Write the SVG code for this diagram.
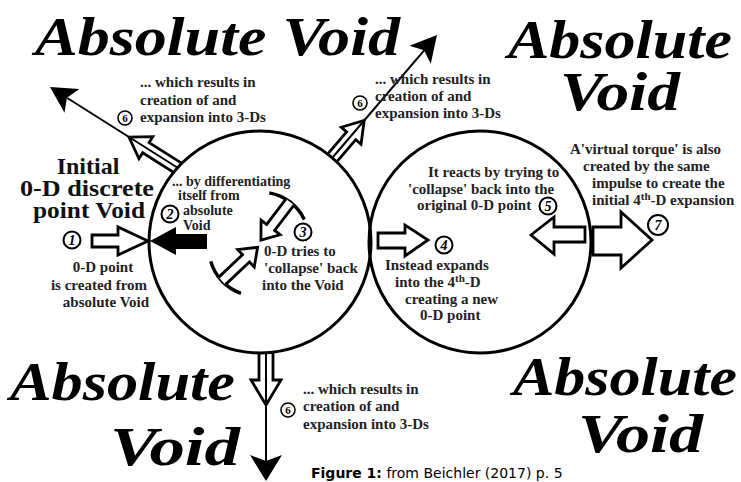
<svg xmlns="http://www.w3.org/2000/svg" width="741" height="482" viewBox="0 0 741 482">
<style>
.av{font-family:"Liberation Serif","Times New Roman",serif;font-style:italic;font-weight:bold;font-size:55px;fill:#000}
.t{font-family:"Liberation Serif","Times New Roman",serif;font-weight:bold;font-size:15px;fill:#222}
.ts{font-family:"Liberation Serif","Times New Roman",serif;font-weight:bold;font-size:14px;fill:#222}
.big{font-family:"Liberation Serif","Times New Roman",serif;font-weight:bold;font-size:24px;fill:#111;text-anchor:middle}
.num{font-family:"Liberation Serif","Times New Roman",serif;font-style:italic;font-weight:bold;font-size:14px;fill:#000;text-anchor:middle}
.n6{font-family:"Liberation Serif","Times New Roman",serif;font-weight:bold;font-size:11px;fill:#000;text-anchor:middle}
.nc{fill:#fff;stroke:#000;stroke-width:2}
.nc6{fill:#fff;stroke:#000;stroke-width:1.6}
.big-c{fill:none;stroke:#000;stroke-width:3}
.hol{fill:#fff;stroke:#000;stroke-width:2.8;stroke-linejoin:miter}
.thin{stroke:#000;stroke-width:2;fill:none}
.cap{font-family:"DejaVu Sans",Verdana,sans-serif;font-size:14px;fill:#000}
</style>
<rect width="741" height="482" fill="#fff"/>

<g id="void-labels">
<text class="av" x="35" y="55" textLength="365" lengthAdjust="spacingAndGlyphs">Absolute Void</text>
<text class="av" x="508" y="58" textLength="224" lengthAdjust="spacingAndGlyphs">Absolute</text>
<text class="av" x="560" y="110" textLength="120" lengthAdjust="spacingAndGlyphs">Void</text>
<text class="av" x="10" y="400" textLength="225" lengthAdjust="spacingAndGlyphs">Absolute</text>
<text class="av" x="110" y="465" textLength="130" lengthAdjust="spacingAndGlyphs">Void</text>
<text class="av" x="513" y="395" textLength="224" lengthAdjust="spacingAndGlyphs">Absolute</text>
<text class="av" x="578" y="452" textLength="125" lengthAdjust="spacingAndGlyphs">Void</text>
</g>

<g id="connectors">
  <g transform="translate(178,168) rotate(-147.7)">
    <path class="hol" d="M0,-6 H38 V-13 L58,0 L38,13 V6 H0"/>
    <line class="thin" x1="0" y1="0" x2="131" y2="0"/>
  </g>
  <polygon points="0,0 -26,-14 -20,0 -26,14" fill="#000" transform="translate(50,87) rotate(-147.7)"/>

  <g transform="translate(333,157) rotate(-49.5)">
    <path class="hol" d="M0,-6 H28 V-13 L48,0 L28,13 V6 H0"/>
    <line class="thin" x1="0" y1="0" x2="141" y2="0"/>
  </g>
  <polygon points="0,0 -26,-14 -20,0 -26,14" fill="#000" transform="translate(437,35) rotate(-49.5)"/>

  <g transform="translate(266,352) rotate(90)">
    <path class="hol" d="M0,-7 H28 V-15 L53,0 L28,15 V7 H0"/>
    <line class="thin" x1="0" y1="0" x2="110" y2="0"/>
  </g>
  <polygon points="0,0 -26,-16 -20,0 -26,16" fill="#000" transform="translate(266,481) rotate(90)"/>
</g>

<g id="circles">
  <circle class="big-c" cx="260" cy="242" r="111"/>
  <circle class="big-c" cx="480" cy="242" r="111"/>
</g>

<g id="arrow1">
  <path class="hol" d="M92,235 H118 V227 L148,241 L118,255 V247 H92 Z"/>
  <circle class="nc" cx="72" cy="240" r="8.5"/>
  <text class="num" x="72" y="245">1</text>
</g>

<g id="arrow2">
  <path d="M207,234 H176 V227 L150,241 L176,255 V249 H207 Z" fill="#000"/>
  <circle class="nc" cx="170" cy="214" r="8.5"/>
  <text class="num" x="170" y="219">2</text>
</g>

<g id="arrow3">
  <g transform="translate(290,202) rotate(127.3)">
    <path d="M5.3,-22 A48,48 0 0 0 5.3,22" fill="none" stroke="#000" stroke-width="3.5"/>
    <path class="hol" d="M0,-5 H32 V-12 L48,0 L32,12 V5 H0"/>
  </g>
  <g transform="translate(222,281) rotate(-43.4)">
    <path d="M5.3,-22 A48,48 0 0 0 5.3,22" fill="none" stroke="#000" stroke-width="3.5"/>
    <path class="hol" d="M0,-5 H33 V-12 L49,0 L33,12 V5 H0"/>
  </g>
  <circle class="nc" cx="303" cy="232" r="8.5"/>
  <text class="num" x="303" y="237">3</text>
</g>

<g id="arrow4">
  <path class="hol" d="M378,233 H405 V225 L428,240 L405,256 V248 H378 Z"/>
  <circle class="nc" cx="444" cy="245" r="8.5"/>
  <text class="num" x="444" y="250">4</text>
</g>

<g id="arrow5">
  <path class="hol" d="M585,227 H554 V217 L531,235 L554,254 V242 H585 Z"/>
  <circle class="nc" cx="548" cy="206" r="8.5"/>
  <text class="num" x="548" y="211">5</text>
</g>

<g id="arrow7">
  <path class="hol" d="M593,227 H621 V212 L652,240 L621,268 V255 H593 Z"/>
  <circle class="nc" cx="658" cy="225" r="10"/>
  <text class="num" x="658" y="230">7</text>
</g>

<g id="six-markers">
  <circle class="nc6" cx="125" cy="118" r="7"/>
  <text class="n6" x="125" y="122">6</text>
  <circle class="nc6" cx="360" cy="103" r="7"/>
  <text class="n6" x="360" y="107">6</text>
  <circle class="nc6" cx="288" cy="410" r="7"/>
  <text class="n6" x="288" y="414">6</text>
</g>

<g id="texts">
  <text class="big" x="88" y="174">Initial</text>
  <text class="big" x="87" y="196" textLength="134" lengthAdjust="spacingAndGlyphs">0-D discrete</text>
  <text class="big" x="89" y="218" textLength="112" lengthAdjust="spacingAndGlyphs">point Void</text>

  <text class="t" x="140" y="87">... which results in</text>
  <text class="t" x="140" y="105">creation of and</text>
  <text class="t" x="140" y="122">expansion into 3-Ds</text>

  <text class="t" x="375" y="84">... which results in</text>
  <text class="t" x="375" y="101">creation of and</text>
  <text class="t" x="375" y="118">expansion into 3-Ds</text>

  <text class="t" x="303" y="394">... which results in</text>
  <text class="t" x="303" y="411">creation of and</text>
  <text class="t" x="303" y="429">expansion into 3-Ds</text>

  <text class="t" x="103" y="272" text-anchor="middle">0-D point</text>
  <text class="t" x="99" y="290" text-anchor="middle">is created from</text>
  <text class="t" x="106" y="307" text-anchor="middle">absolute Void</text>

  <text class="ts" x="172" y="186">... by differentiating</text>
  <text class="ts" x="178" y="200">itself from</text>
  <text class="ts" x="183" y="215">absolute</text>
  <text class="ts" x="183" y="230">Void</text>

  <text class="t" x="264" y="256">0-D tries to</text>
  <text class="t" x="264" y="273">'collapse' back</text>
  <text class="t" x="262" y="290">into the Void</text>

  <text class="t" x="428" y="177">It reacts by trying to</text>
  <text class="t" x="408" y="194">'collapse' back into the</text>
  <text class="t" x="417" y="210">original 0-D point</text>

  <text class="t" x="385" y="270">Instead expands</text>
  <text class="t" x="395" y="287">into the 4<tspan font-size="11" dy="-5">th</tspan><tspan dy="5">-D</tspan></text>
  <text class="t" x="405" y="304">creating a new</text>
  <text class="t" x="420" y="320">0-D point</text>

  <text class="t" x="570" y="154">A'virtual torque' is also</text>
  <text class="t" x="583" y="171">created by the same</text>
  <text class="t" x="592" y="188">impulse to create the</text>
  <text class="t" x="592" y="205">initial 4<tspan font-size="11" dy="-5">th</tspan><tspan dy="5">-D expansion</tspan></text>

  <text class="cap" x="311" y="478"><tspan font-weight="bold">Figure 1:</tspan> from Beichler (2017) p. 5</text>
</g>
</svg>
